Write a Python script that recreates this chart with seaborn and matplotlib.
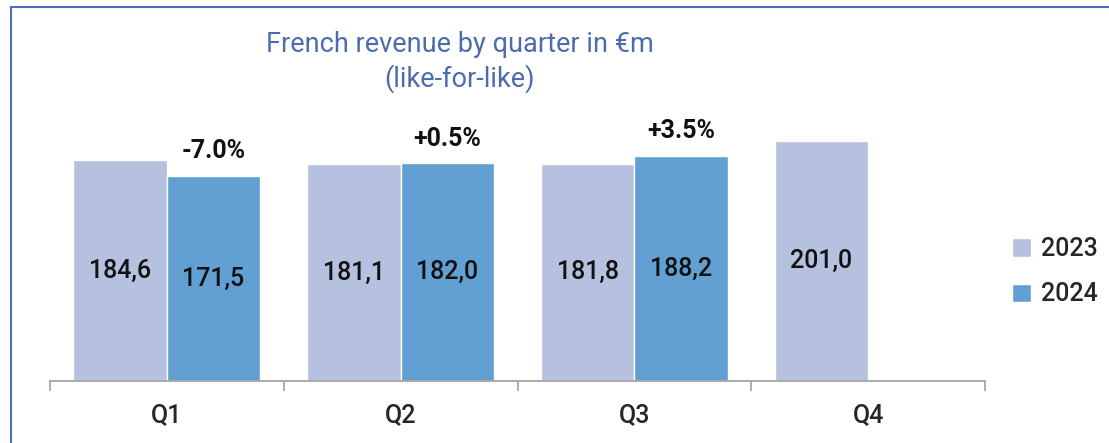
import numpy as np
import pandas as pd
import matplotlib
matplotlib.use("Agg")
import matplotlib.pyplot as plt
from matplotlib.patches import Rectangle
import seaborn as sns

# data
quarters = ["Q1", "Q2", "Q3", "Q4"]
rev_2023 = [184.6, 181.1, 181.8, 201.0]
rev_2024 = [171.5, 182.0, 188.2, np.nan]
growth_2024 = ["-7.0%", "+0.5%", "+3.5%"]
years = ["2023", "2024"]
colors = ["#b5c1df", "#629fd2"]

df = pd.DataFrame({
    "quarter": quarters * 2,
    "year": [years[0]] * 4 + [years[1]] * 4,
    "revenue": rev_2023 + rev_2024,
})

sns.set_style("white")
plt.rcParams["font.family"] = ["Roboto", "DejaVu Sans"]

fig = plt.figure(figsize=(11.09, 4.43), dpi=100)
ax = fig.add_axes([50 / 1109, 62 / 443, 935 / 1109, 299 / 443])

sns.barplot(data=df, x="quarter", y="revenue", hue="year", palette=colors,
            width=0.8, saturation=1, ax=ax, order=quarters, hue_order=years)

ax.set_ylim(0, 250)
ax.set_xlim(-0.5, 3.5)
ax.set_xlabel("")
ax.set_ylabel("")
ax.set_yticks([])
for side in ["top", "right", "left"]:
    ax.spines[side].set_visible(False)
ax.spines["bottom"].set_color("#a6a6a6")
ax.spines["bottom"].set_linewidth(1.3)

# category ticks: boundaries as minor ticks, labels at centres
ax.set_xticks(range(len(quarters)))
ax.set_xticklabels(quarters, fontsize=18, fontweight="medium")
ax.set_xticks(np.arange(-0.5, 4, 1), minor=True)
ax.tick_params(axis="x", which="major", bottom=True, length=0, pad=16)
ax.tick_params(axis="x", which="minor", bottom=True, length=7, width=1.3,
               color="#a6a6a6", direction="out")

# value labels inside bars
for cont in ax.containers:
    labels = [f"{v:.1f}".replace(".", ",") if not np.isnan(v) else "" for v in cont.datavalues]
    ax.bar_label(cont, labels=labels, label_type="center", fontsize=18,
                 fontweight="medium", color="#111111")

# growth labels above 2024 bars
cont24 = ax.containers[1]
n = len(cont24)
ax.bar_label(cont24, labels=(growth_2024 + [""] * n)[:n], padding=9,
             fontsize=18, fontweight="bold", color="#111111")

leg = ax.legend(frameon=False, loc="center left", bbox_to_anchor=(1.005, 0.365),
                fontsize=18, handlelength=0.75, handleheight=0.75,
                handletextpad=0.4, labelspacing=0.85)
for t in leg.get_texts():
    t.set_fontweight("medium")

fig.text(460 / 1109, 1 - 62 / 443, "French revenue by quarter in €m\n(like-for-like)",
         ha="center", va="center", multialignment="center", fontsize=19.5,
         color="#4d6cb0", linespacing=1.3)

# outer frame of the original slide chart
fig.patches.append(Rectangle((11 / 1109, -0.1), 1.2, 1.1 - 7 / 443, transform=fig.transFigure,
                             fill=False, edgecolor="#4a6fb8", linewidth=1.5))

fig.savefig("out.png", dpi=100)
